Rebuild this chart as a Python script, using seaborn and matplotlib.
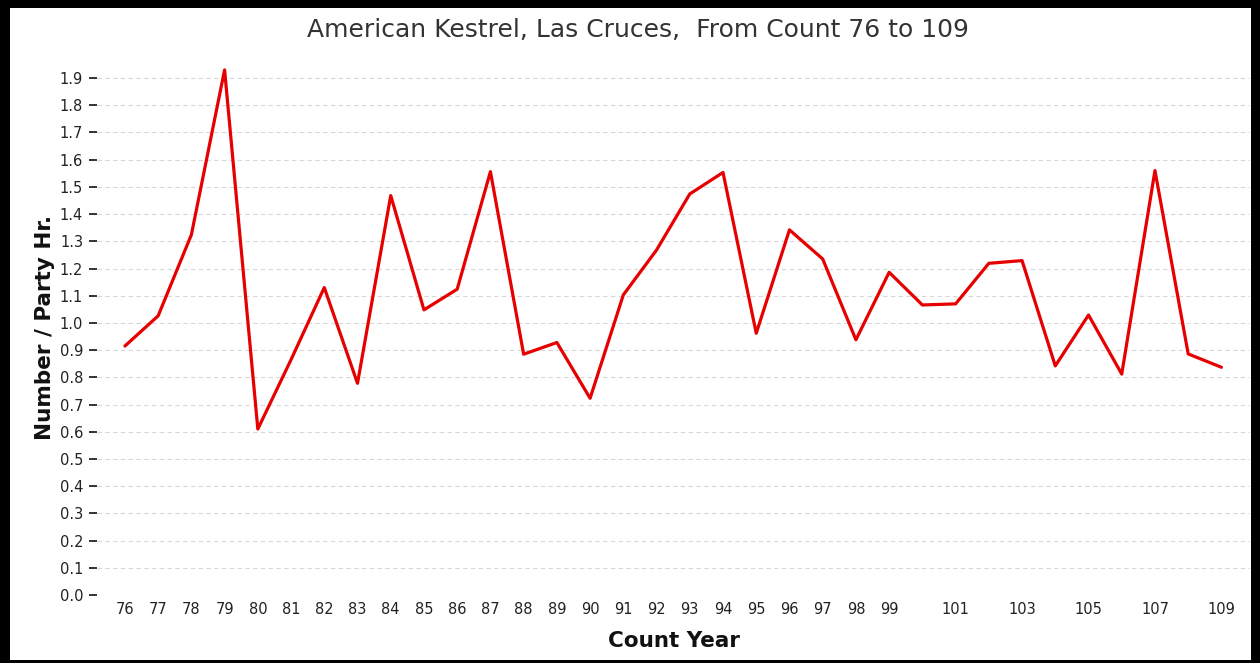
import matplotlib
matplotlib.use("Agg")
import matplotlib.pyplot as plt
import seaborn as sns
import pandas as pd
from matplotlib.patches import Rectangle

# ---- data ----
count_years = list(range(76, 110))
birds_per_party_hr = [0.915, 1.026, 1.324, 1.93, 0.61, 0.865, 1.13, 0.778, 1.468, 1.048,
                      1.124, 1.556, 0.885, 0.928, 0.723, 1.103, 1.268, 1.474, 1.553, 0.962,
                      1.342, 1.235, 0.938, 1.186, 1.066, 1.07, 1.219, 1.229, 0.842, 1.029,
                      0.812, 1.56, 0.886, 0.837]
hidden_labels = [100, 102, 104, 106, 108]
y_ticks = [round(i * 0.1, 1) for i in range(20)]
title = "American Kestrel, Las Cruces,  From Count 76 to 109"
x_label = "Count Year"
y_label = "Number / Party Hr."

df = pd.DataFrame({"year": count_years, "value": birds_per_party_hr})

sns.set_theme(style="white")
plt.rcParams['font.family'] = ['DejaVu Sans']

W, H = 1260, 663
fig = plt.figure(figsize=(W / 100, H / 100), dpi=100)
ax = fig.add_axes([97 / W, 1 - 595 / H, (1250 - 97) / W, (595 - 59) / H])

sns.lineplot(data=df, x="year", y="value", ax=ax, color="#e60000", linewidth=2.3)

ax.set_xlim(75.16, 109.86)
ax.set_ylim(0, 1.97)
ax.set_yticks(y_ticks)
ax.set_yticklabels([f"{t:.1f}" for t in y_ticks])
ax.set_xticks(count_years)
ax.set_xticklabels(["" if y in hidden_labels else str(y) for y in count_years])

ax.tick_params(axis="y", which="major", direction="out", length=6, width=1.4,
               color="#333333", pad=4, labelsize=10.5, labelcolor="#222222", left=True)
ax.tick_params(axis="x", length=0, pad=5, labelsize=10.5, labelcolor="#222222")

ax.grid(axis="y", color="#d8d8d8", linestyle=(0, (4, 3)), linewidth=0.8)
ax.grid(axis="x", visible=False)
for s in ax.spines.values():
    s.set_visible(False)

ax.set_xlabel(x_label, fontsize=15.5, fontweight="bold", color="#111111", labelpad=10)
ax.set_ylabel(y_label, fontsize=15.5, fontweight="bold", color="#111111", labelpad=3)

fig.text(638 / W, 1 - 30 / H, title, ha="center", va="center", fontsize=18, color="#333333")

# black frame around the picture
for (x0, y0, w, h) in [(0, 0, 10, H), (0, H - 8, W, 8), (W - 9, 0, 9, H), (0, 0, W, 3)]:
    fig.patches.append(Rectangle((x0 / W, y0 / H), w / W, h / H, transform=fig.transFigure,
                                 facecolor="black", edgecolor="none", zorder=10))

fig.savefig("out.png", dpi=100)
